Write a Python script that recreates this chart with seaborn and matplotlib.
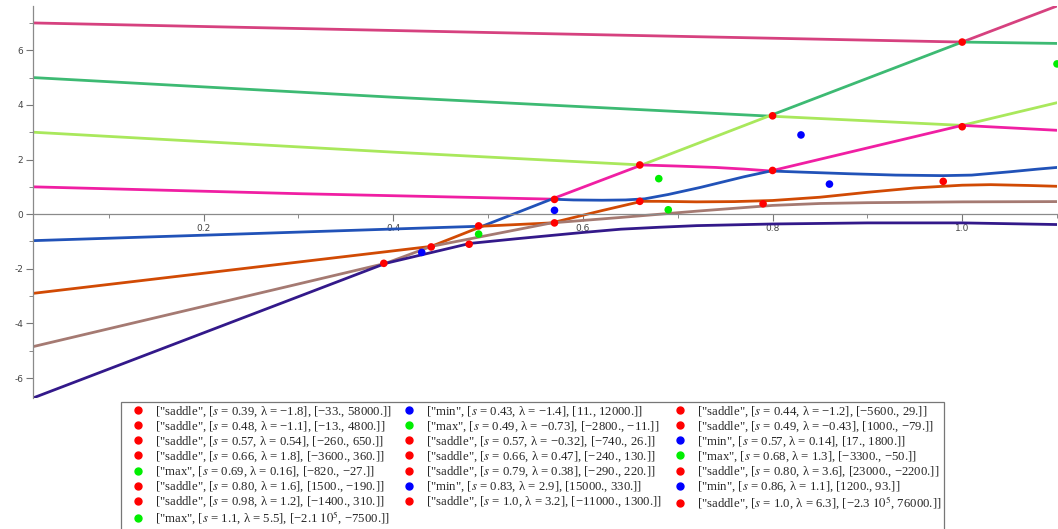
import matplotlib
matplotlib.use("Agg")
import matplotlib.pyplot as plt
from matplotlib.lines import Line2D
import pandas as pd
import seaborn as sns

# ---- eigenvalue branches λ(s), ordered from the top branch downwards ----
s_b1 = [0.02, 0.50, 1.0, 1.1]
lam_b1 = [7.0, 6.65, 6.3, 7.62]

s_b2 = [0.02, 0.40, 0.796, 1.0, 1.1]
lam_b2 = [5.0, 4.28, 3.59, 6.3, 6.25]

s_b3 = [0.02, 0.40, 0.662, 0.796, 1.0, 1.1]
lam_b3 = [3.0, 2.27, 1.8, 3.59, 3.25, 4.08]

s_b4 = [0.02, 0.30, 0.567, 0.662, 0.70, 0.74, 0.77, 0.798, 1.0, 1.1]
lam_b4 = [1.0, 0.75, 0.55, 1.8, 1.76, 1.71, 1.65, 1.58, 3.25, 3.07]

s_b5 = [0.02, 0.20, 0.43, 0.494, 0.567, 0.59, 0.62, 0.645, 0.665, 0.69, 0.724,
        0.77, 0.798, 0.83, 0.88, 0.93, 0.98, 1.01, 1.05, 1.08, 1.1]
lam_b5 = [-0.97, -0.77, -0.51, -0.44, 0.55, 0.52, 0.51, 0.52, 0.56, 0.72, 0.98,
          1.37, 1.58, 1.54, 1.48, 1.43, 1.41, 1.43, 1.55, 1.65, 1.71]

s_b6 = [0.02, 0.44, 0.494, 0.567, 0.62, 0.662, 0.68, 0.72, 0.76, 0.80, 0.85,
        0.90, 0.95, 1.0, 1.03, 1.07, 1.1]
lam_b6 = [-2.9, -1.18, -0.44, -0.32, 0.13, 0.47, 0.47, 0.45, 0.46, 0.50, 0.62,
          0.80, 0.96, 1.06, 1.08, 1.05, 1.02]

s_b7 = [0.02, 0.392, 0.44, 0.567, 0.64, 0.72, 0.80, 0.85, 0.90, 1.0, 1.1]
lam_b7 = [-4.85, -1.8, -1.18, -0.32, -0.12, 0.11, 0.32, 0.39, 0.42, 0.45, 0.46]

s_b8 = [0.02, 0.392, 0.481, 0.53, 0.60, 0.64, 0.68, 0.72, 0.80, 0.90, 1.0, 1.05, 1.1]
lam_b8 = [-6.73, -1.8, -1.07, -0.90, -0.67, -0.55, -0.48, -0.42, -0.36, -0.32, -0.32, -0.35, -0.38]

branch_colors = ["#d6417f", "#3dba73", "#a9e85c", "#f01fa3",
                 "#2152b8", "#d14a04", "#a57a72", "#33198a"]

# ---- critical points: kind, s, λ and Hessian eigenvalues ----
crit_kind = ["saddle", "min", "saddle",
             "saddle", "max", "saddle",
             "saddle", "saddle", "min",
             "saddle", "saddle", "max",
             "max", "saddle", "saddle",
             "saddle", "min", "min",
             "saddle", "saddle", "saddle",
             "max"]
crit_s = ["0.39", "0.43", "0.44",
          "0.48", "0.49", "0.49",
          "0.57", "0.57", "0.57",
          "0.66", "0.66", "0.68",
          "0.69", "0.79", "0.80",
          "0.80", "0.83", "0.86",
          "0.98", "1.0", "1.0",
          "1.1"]
crit_lam = ["−1.8", "−1.4", "−1.2",
            "−1.1", "−0.73", "−0.43",
            "0.54", "−0.32", "0.14",
            "1.8", "0.47", "1.3",
            "0.16", "0.38", "3.6",
            "1.6", "2.9", "1.1",
            "1.2", "3.2", "6.3",
            "5.5"]
crit_h1 = ["−33.", "11.", "−5600.",
           "−13.", "−2800.", "1000.",
           "−260.", "−740.", "17.",
           "−3600.", "−240.", "−3300.",
           "−820.", "−290.", "23000.",
           "1500.", "15000.", "1200.",
           "−1400.", "−11000.", r"−2.3 $10^{5}$",
           r"−2.1 $10^{5}$"]
crit_h2 = ["58000.", "12000.", "29.",
           "4800.", "−11.", "−79.",
           "650.", "26.", "1800.",
           "360.", "130.", "−50.",
           "−27.", "220.", "−2200.",
           "−190.", "330.", "93.",
           "310.", "1300.", "76000.",
           "−7500."]
kind_colors = {"saddle": "#ff0000", "min": "#0000ff", "max": "#00ee00"}

x_ticks = [0.2, 0.4, 0.6, 0.8, 1.0]
x_tick_labels = ["0.2", "0.4", "0.6", "0.8", "1.0"]
y_ticks = [-6, -4, -2, 0, 2, 4, 6]
y_tick_labels = ["-6", "-4", "-2", "0", "2", "4", "6"]

sns.set_theme(style="white")
plt.rcParams["font.family"] = ["DejaVu Sans"]
plt.rcParams["mathtext.fontset"] = "stix"

fig = plt.figure(figsize=(10.58, 5.29), dpi=100)
ax = fig.add_axes([33 / 1058, 131 / 529, 1024 / 1058, 392 / 529])

branches = [(s_b1, lam_b1), (s_b2, lam_b2), (s_b3, lam_b3), (s_b4, lam_b4),
            (s_b5, lam_b5), (s_b6, lam_b6), (s_b7, lam_b7), (s_b8, lam_b8)]
rows = []
for k, (ss, ll) in enumerate(branches):
    for a, b in zip(ss, ll):
        rows.append({"s": a, "lam": b, "branch": f"b{k + 1}"})
curves = pd.DataFrame(rows)
palette = {f"b{k + 1}": c for k, c in enumerate(branch_colors)}
sns.lineplot(data=curves, x="s", y="lam", hue="branch", palette=palette,
             sort=False, estimator=None, linewidth=2.0, legend=False, ax=ax)

def to_num(t):
    return float(t.replace("−", "-"))

pts = pd.DataFrame({"s": [to_num(v) for v in crit_s],
                    "lam": [to_num(v) for v in crit_lam],
                    "kind": crit_kind})
sns.scatterplot(data=pts, x="s", y="lam", hue="kind", palette=kind_colors,
                s=30, edgecolor="none", legend=False, ax=ax, zorder=5,
                clip_on=False)

ax.set_xlim(0.02, 1.1)
ax.set_ylim(-6.73, 7.62)
ax.set_xlabel("")
ax.set_ylabel("")
for side in ("top", "right"):
    ax.spines[side].set_visible(False)
ax.spines["bottom"].set_position(("data", 0))
for side in ("bottom", "left"):
    ax.spines[side].set_color("#8a8a8a")
    ax.spines[side].set_linewidth(0.9)

ax.set_xticks(x_ticks)
ax.set_xticklabels(x_tick_labels)
ax.set_xticks([0.1, 0.3, 0.5, 0.7, 0.9, 1.1], minor=True)
ax.set_yticks(y_ticks)
ax.set_yticklabels(y_tick_labels)
ax.set_yticks([-5, -3, -1, 1, 3, 5, 7], minor=True)
ax.tick_params(axis="both", which="major", direction="out", length=5, width=0.8,
               color="#777777", labelsize=6.5, labelcolor="#444444", pad=2)
ax.tick_params(axis="both", which="minor", direction="out", length=3, width=0.6,
               color="#777777")
ax.tick_params(axis="x", which="both", bottom=True)
ax.tick_params(axis="y", which="both", left=True)

# legend entries, ordered row by row across three columns
labels = [f'["{k}", [$s$ = {s}, λ = {l}], [{h1}, {h2}]]'
          for k, s, l, h1, h2 in zip(crit_kind, crit_s, crit_lam, crit_h1, crit_h2)]
handles = [Line2D([], [], marker="o", linestyle="", color=kind_colors[k],
                  markersize=5) for k in crit_kind]
order = list(range(0, 22, 3)) + list(range(1, 22, 3)) + list(range(2, 22, 3))
leg = fig.legend([handles[i] for i in order], [labels[i] for i in order],
                 ncol=3, loc="upper left", bbox_to_anchor=(121 / 1058, 1 - 402 / 529),
                 frameon=True, fancybox=False, edgecolor="#555555",
                 prop={"family": "Liberation Serif", "size": 9.2},
                 labelspacing=0.04, handletextpad=0.25, columnspacing=0.25,
                 borderpad=0.2, borderaxespad=0, handlelength=2.2)
leg.get_frame().set_linewidth(0.9)

fig.savefig("out.png", dpi=100)
